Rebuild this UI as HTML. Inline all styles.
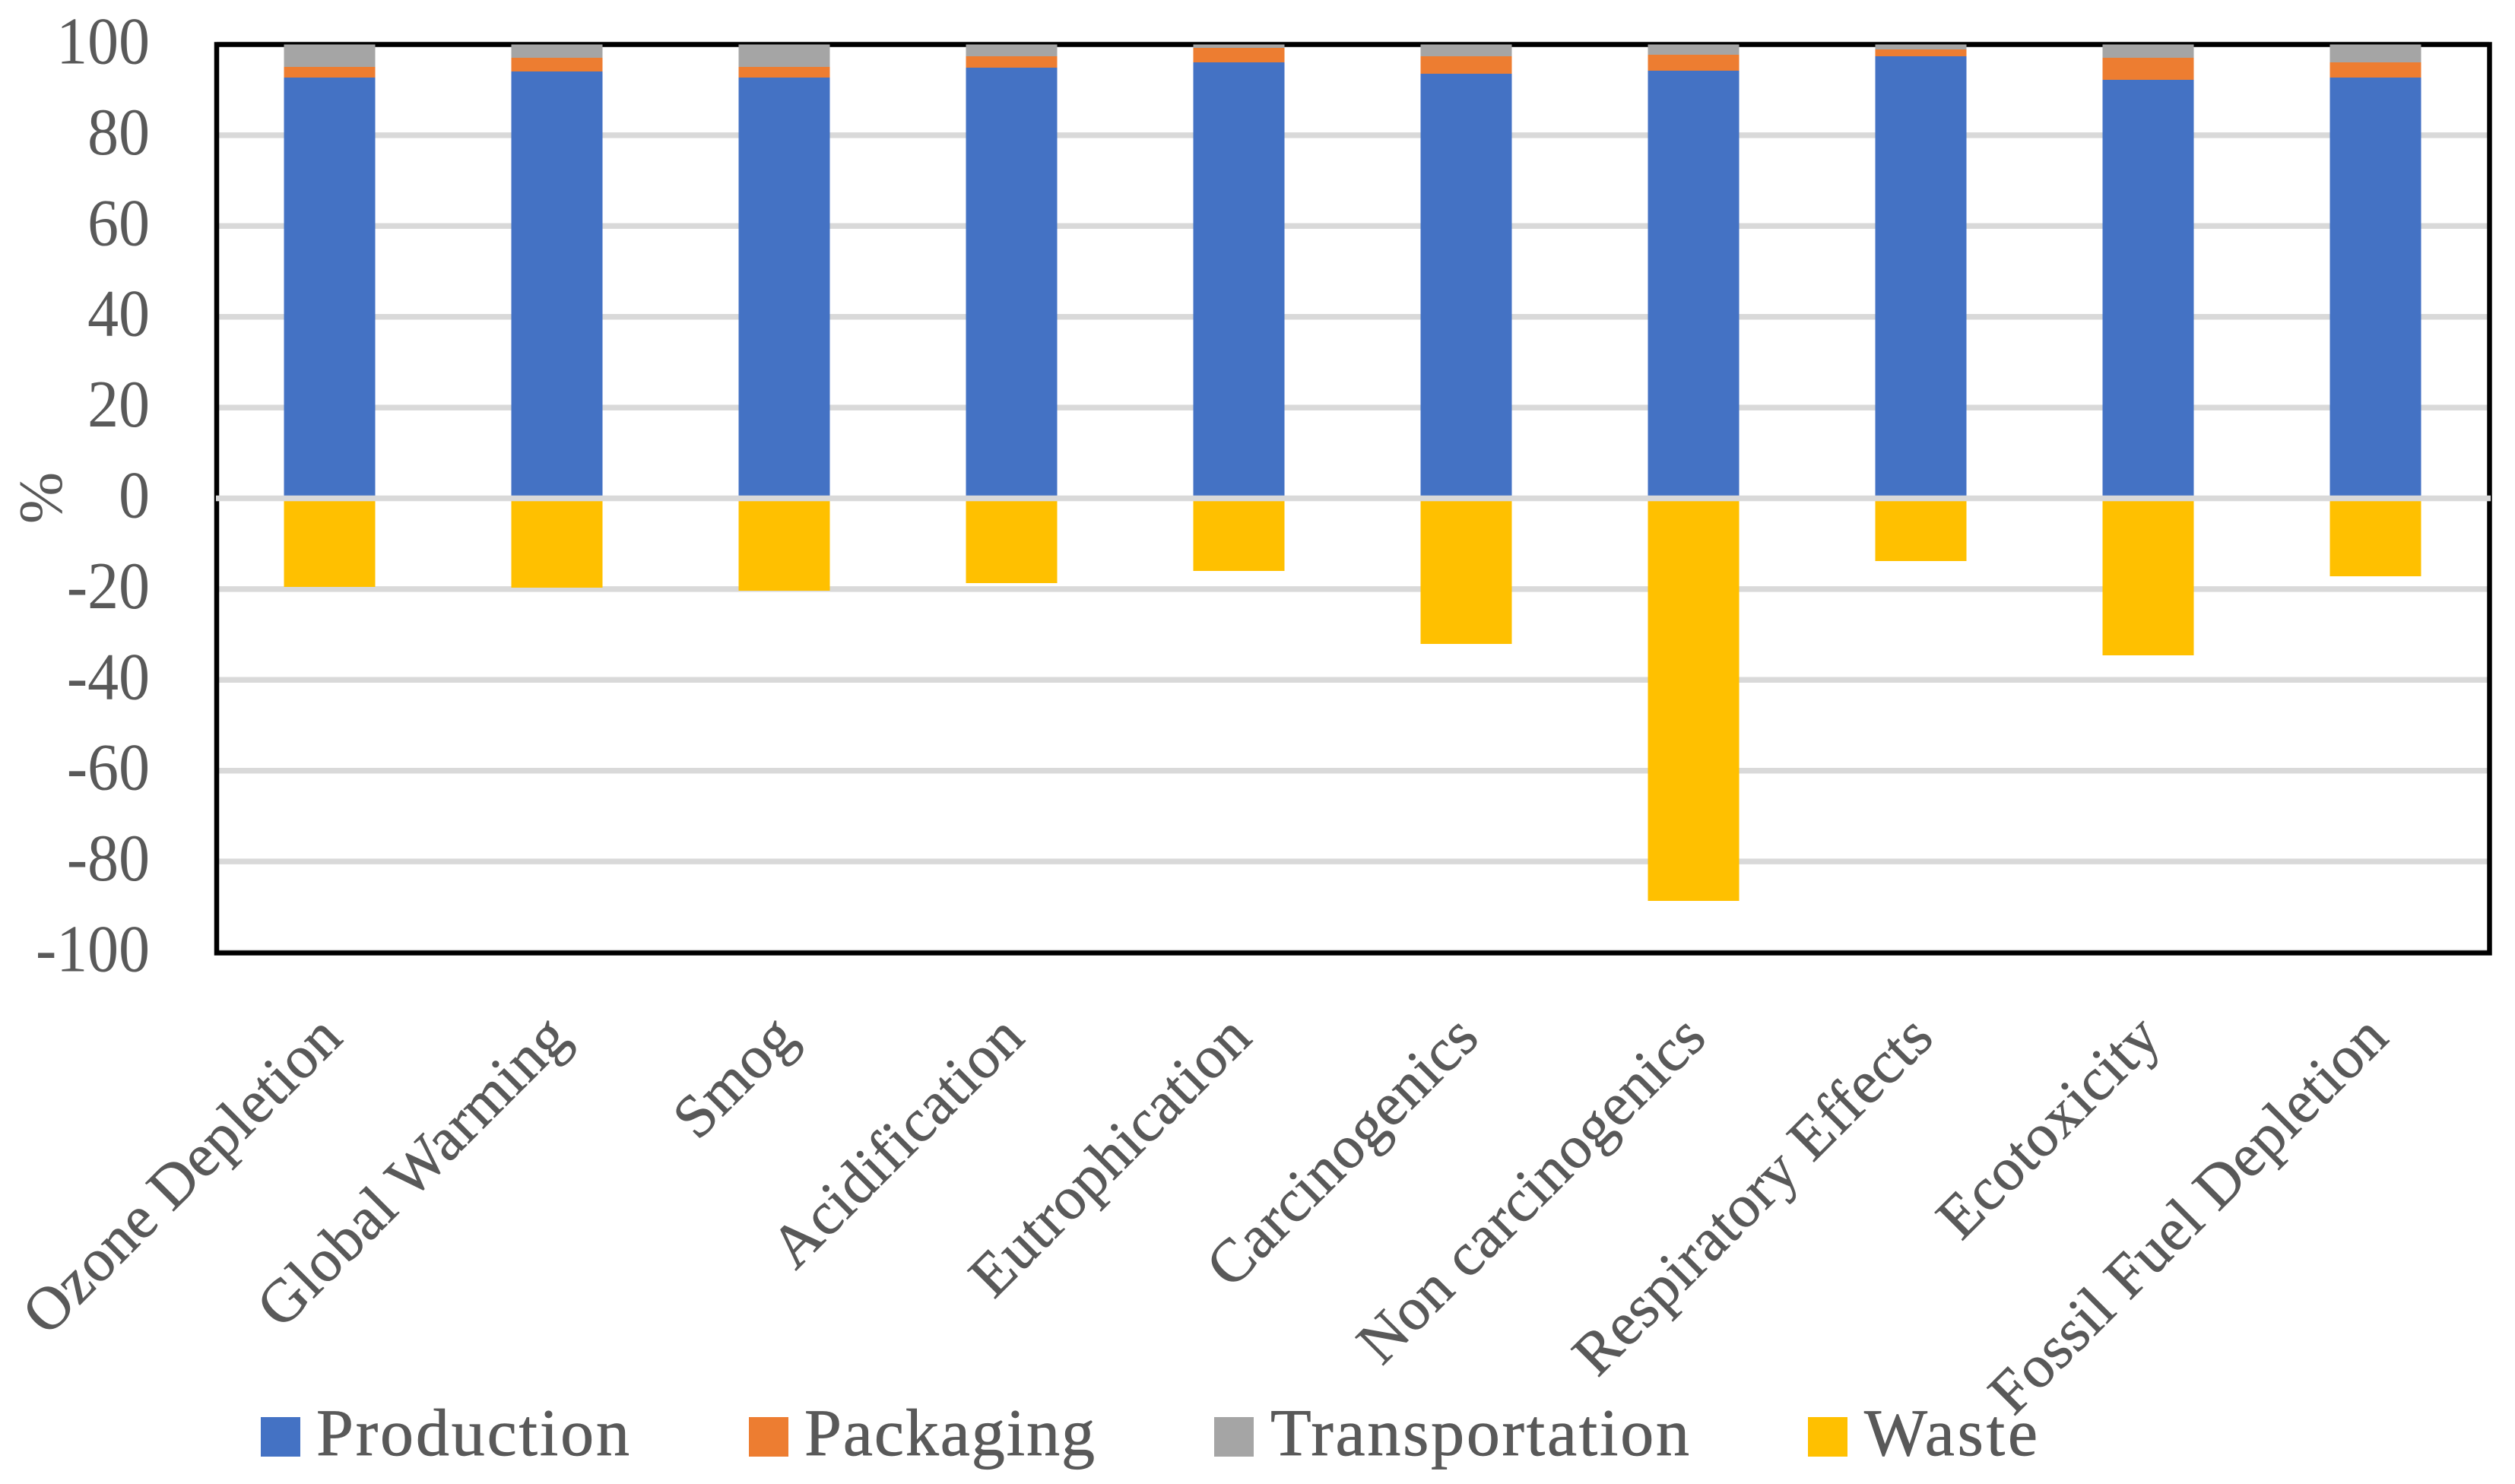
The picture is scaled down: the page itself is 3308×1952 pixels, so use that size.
<!DOCTYPE html>
<html lang="en">
<head>
<meta charset="utf-8">
<title>Life cycle impact contributions chart</title>
<style>
  html, body { margin: 0; padding: 0; background: #ffffff; }
  svg { display: block; }
  text { font-family: "Liberation Serif", serif; fill: #595959; }
  .heavy { stroke: #595959; stroke-width: 0.7; }
</style>
</head>
<body>
<svg id="chart" xmlns="http://www.w3.org/2000/svg" width="3308" height="1952" viewBox="0 0 3308 1952">
  <rect x="0" y="0" width="3308" height="1952" fill="#ffffff"/>
  <g id="grid"></g>
  <rect x="285" y="58.5" width="2989.5" height="1195" fill="none" stroke="#000000" stroke-width="6.5"/>
  <g id="bars"></g>
  <line id="zero-line" stroke="#D9D9D9" stroke-width="7.5"/>
  <g id="y-ticks"></g>
  <text transform="translate(81,655) rotate(-90)" text-anchor="middle" font-size="82">%</text>
  <g id="x-ticks"></g>
  <g>
    <g>
      <rect x="343" y="1864" width="52" height="52" fill="#4472C4"/>
      <text class="heavy" x="416" y="1914" font-size="88" textLength="412" lengthAdjust="spacing">Production</text>
    </g>
    <g>
      <rect x="985" y="1864" width="52" height="52" fill="#ED7D31"/>
      <text class="heavy" x="1058" y="1914" font-size="88" textLength="382" lengthAdjust="spacing">Packaging</text>
    </g>
    <g>
      <rect x="1597" y="1864" width="52" height="52" fill="#A5A5A5"/>
      <text class="heavy" x="1671" y="1914" font-size="88" textLength="551" lengthAdjust="spacing">Transportation</text>
    </g>
    <g>
      <rect x="2378" y="1864" width="52" height="52" fill="#FFC000"/>
      <text class="heavy" x="2452" y="1914" font-size="88" textLength="228" lengthAdjust="spacing">Waste</text>
    </g>
  </g>
</svg>
<script>
const categories = ["Ozone Depletion", "Global Warming", "Smog", "Acidification", "Eutrophication", "Carcinogenics", "Non carcinogenics", "Respiratory Effects", "Ecotoxicity", "Fossil Fuel Depletion"];
const production = [92.7, 94.05, 92.7, 94.9, 96.05, 93.55, 94.2, 97.4, 92.2, 92.7];
const packaging = [2.35, 3.0, 2.35, 2.5, 3.2, 3.85, 3.5, 1.5, 4.87, 3.35];
const transportation = [4.95, 2.95, 4.95, 2.6, 0.75, 2.6, 2.3, 1.1, 2.93, 3.95];
const waste = [-19.5, -19.68, -20.35, -18.68, -16.0, -32.08, -88.66, -13.8, -34.6, -17.17];
const yTicks = [100, 80, 60, 40, 20, 0, -20, -40, -60, -80, -100];

const SVG_NS = "http://www.w3.org/2000/svg";
function yScale(v) { return 655.5 - v * 5.97; }
function xScale(i) { return 433.5 + i * 299; }
const BAR_WIDTH = 120;

function make(tag, attrs, parent) {
  const el = document.createElementNS(SVG_NS, tag);
  for (const k in attrs) el.setAttribute(k, attrs[k]);
  parent.appendChild(el);
  return el;
}

const gridG = document.getElementById("grid");
const barsG = document.getElementById("bars");
const yG = document.getElementById("y-ticks");
const xG = document.getElementById("x-ticks");

yTicks.forEach(function (t) {
  if (t !== 0) {
    const line = make("line", { x1: 285, x2: 3274, y1: yScale(t), y2: yScale(t), stroke: "#D9D9D9", "stroke-width": 7.5 }, gridG);
    
    
  }
  const label = make("text", { transform: "translate(197," + (yScale(t) + 25) + ") scale(0.93,1)", "text-anchor": "end", "font-size": 88 }, yG);
  
  
  label.textContent = String(t);
});

const zero = document.getElementById("zero-line");
zero.setAttribute("x1", 284);
zero.setAttribute("x2", 3276);
zero.setAttribute("y1", yScale(0));
zero.setAttribute("y2", yScale(0));

function drawBar(i, from, to, fill, name) {
  const top = Math.min(yScale(from), yScale(to));
  const h = Math.abs(yScale(from) - yScale(to));
  const r = make("rect", { x: xScale(i) - BAR_WIDTH / 2, y: top, width: BAR_WIDTH, height: h, fill: fill, "shape-rendering": "crispEdges" }, barsG);
  
  
}

categories.forEach(function (cat, i) {
  const a = production[i];
  const b = a + packaging[i];
  const c = b + transportation[i];
  drawBar(i, 0, a, "#4472C4", "bar-production");
  drawBar(i, a, b, "#ED7D31", "bar-packaging");
  drawBar(i, b, c, "#A5A5A5", "bar-transportation");
  drawBar(i, 0, waste[i], "#FFC000", "bar-waste");

  const ax = xScale(i) + 20;
  const ay = 1368;
  const t = make("text", { class: "heavy", transform: "translate(" + ax + "," + ay + ") rotate(-45)", "text-anchor": "end", "font-size": 80, "letter-spacing": "0.6" }, xG);
  
  
  t.textContent = cat;
});
</script>
</body>
</html>
